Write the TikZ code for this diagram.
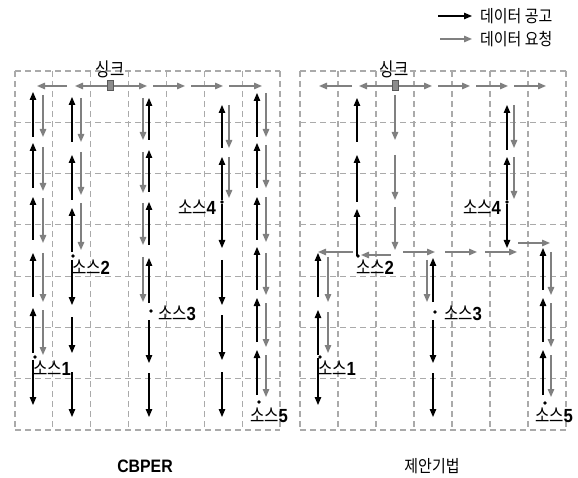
\documentclass[tikz,border=0pt]{standalone}
\usepackage{fontspec}
\newfontfamily\kr{Noto Sans CJK KR}[FakeStretch=0.88]
\newfontfamily\krl{Noto Sans CJK KR}[FakeStretch=0.82]
\newfontfamily\lat{Liberation Sans}[FakeStretch=0.88]
\usetikzlibrary{arrows.meta}
\definecolor{gridc}{RGB}{170,170,170}
\definecolor{reqc}{RGB}{128,128,128}
\newcommand\srcname[1]{{\krl 소스}{\lat\bfseries #1}}
\tikzset{
 gridline/.style={gridc, line width=1.1pt, dash pattern=on 6pt off 4pt},
 annc/.style={black, line width=1.2pt, -{Triangle[length=8pt,width=6.5pt]}},
 reqa/.style={reqc, line width=1.4pt, -{Triangle[length=8pt,width=6.5pt]}},
 src/.style={circle, fill=black, inner sep=0pt, minimum size=3.6pt},
 lbl/.style={font=\fontsize{19}{19}\selectfont, inner sep=0pt},
 ttl/.style={font=\kr\fontsize{17}{17}\selectfont, inner sep=0pt},
 sinkbox/.style={draw=black!65, fill=black!45, minimum width=6pt, minimum height=10pt, inner sep=0pt, line width=0.6pt},
}
\begin{document}
\begin{tikzpicture}[x=1pt,y=-1pt]
\useasboundingbox (0,0) rectangle (578,478);
% grids
\foreach \i in {0,...,7} {
  \draw[gridline] ({15+\i*265/7},71) -- ({15+\i*265/7},430);
  \draw[gridline] (15,{71+\i*359/7}) -- (280,{71+\i*359/7});
  \draw[gridline] ({300+\i*266/7},71) -- ({300+\i*266/7},430);
  \draw[gridline] (300,{71+\i*359/7}) -- (566,{71+\i*359/7});
}
% data announcement (black), left grid
\foreach \xa/\ya/\xb/\yb [count=\i] in {
33/137/33/92, 33/188/33/143, 33/240/33/197, 33/297/33/253, 33/353/33/308, 33/360/33/405,
72/142/72/97, 72/200/72/155, 72/252/72/208, 72/260/72/305, 72/317/72/353, 72/372/72/417,
149/140/149/98, 149/192/149/150, 149/245/149/202, 149/303/149/258, 149/320/149/363, 149/373/149/417,
222/148/222/105, 222/200/222/157, 222/204/222/248, 222/260/222/305, 222/315/222/360, 222/372/222/417,
257/137/257/93, 257/188/257/143, 257/240/257/197, 257/290/257/247, 257/342/257/298, 257/395/257/350} {
  \coordinate (lb\i-s) at (\xa,\ya); \coordinate (lb\i-e) at (\xb,\yb);
  \draw[annc] (lb\i-s) -- (lb\i-e);
}
% data request (gray), left grid
\foreach \xa/\ya/\xb/\yb [count=\i] in {
67/86/37/86, 107/86/75/86, 113/86/147/86, 153/86/185/86, 191/86/223/86, 229/86/262/86,
43/95/43/137, 43/147/43/191, 43/198/43/243, 43/253/43/302, 43/310/43/355,
81/98/81/142, 81/152/81/195, 81/203/81/250,
143/98/143/140, 143/152/143/193, 143/203/143/245, 143/257/143/302,
229/105/229/148, 229/157/229/198,
266/93/266/137, 266/145/266/188, 266/197/266/242, 266/253/266/295, 266/303/266/347, 266/355/266/397} {
  \coordinate (lg\i-s) at (\xa,\ya); \coordinate (lg\i-e) at (\xb,\yb);
  \draw[reqa] (lg\i-s) -- (lg\i-e);
}
% data request (gray), right grid
\foreach \xa/\ya/\xb/\yb [count=\i] in {
352/86/319/86, 392/86/359/86, 398/86/432/86, 438/86/470/86, 476/86/508/86, 514/86/546/86,
395/95/395/140, 395/155/395/200, 395/207/395/250,
353/252/318/252, 391/255/361/255, 403/252/435/252, 445/252/477/252, 485/252/517/252, 518/243/550/243,
328/257/328/302, 328/312/328/353,
427/260/427/302,
514/105/514/148, 514/157/514/199,
551/252/551/295, 551/303/551/347, 551/355/551/397} {
  \coordinate (rg\i-s) at (\xa,\ya); \coordinate (rg\i-e) at (\xb,\yb);
  \draw[reqa] (rg\i-s) -- (rg\i-e);
}
% data announcement (black), right grid
\foreach \xa/\ya/\xb/\yb [count=\i] in {
357/142/357/98, 357/202/357/155, 357/256/357/209,
318/297/318/253, 318/355/318/310, 318/358/318/405,
433/302/433/258, 433/320/433/363, 433/373/433/417,
507/150/507/105, 507/200/507/157, 507/204/507/248,
543/290/543/248, 543/342/543/298, 543/395/543/350} {
  \coordinate (rb\i-s) at (\xa,\ya); \coordinate (rb\i-e) at (\xb,\yb);
  \draw[annc] (rb\i-s) -- (rb\i-e);
}
% sinks
\node[sinkbox] (lsink) at (110,85) {};
\node[sinkbox] (rsink) at (395,85) {};
\node[lbl] (lsinkl) at (110,69) {\krl 싱크};
\node[lbl] (rsinkl) at (394,69) {\krl 싱크};
% sources, left
\node[src] (ls1) at (35,357) {};
\node[src] (ls2) at (73,256) {};
\node[src] (ls3) at (151,311) {};
\node[src] (ls4) at (222,202) {};
\node[src] (ls5) at (259,402) {};
\node[lbl] (ls1l) at (52,368) {\srcname{1}};
\node[lbl] (ls2l) at (91,267) {\srcname{2}};
\node[lbl] (ls3l) at (177,313) {\srcname{3}};
\node[lbl] (ls4l) at (197,207) {\srcname{4}};
\node[lbl] (ls5l) at (269,415) {\srcname{5}};
% sources, right
\node[src] (rs1) at (320,357) {};
\node[src] (rs2) at (358,256) {};
\node[src] (rs3) at (435,312) {};
\node[src] (rs4) at (507,202) {};
\node[src] (rs5) at (545,403) {};
\node[lbl] (rs1l) at (337,368) {\srcname{1}};
\node[lbl] (rs2l) at (375,267) {\srcname{2}};
\node[lbl] (rs3l) at (463,313) {\srcname{3}};
\node[lbl] (rs4l) at (482,207) {\srcname{4}};
\node[lbl] (rs5l) at (554,415) {\srcname{5}};
% titles
\node[font=\lat\bfseries\fontsize{18}{18}\selectfont, inner sep=0pt] (t1) at (145,466) {CBPER};
\node[ttl] (t2) at (432,466) {제안기법};
% legend
\coordinate (lga-s) at (438,16); \coordinate (lga-e) at (472,16);
\draw[annc] (lga-s) -- (lga-e);
\coordinate (lgb-s) at (440,39); \coordinate (lgb-e) at (472,39);
\draw[reqa] (lgb-s) -- (lgb-e);
\node[ttl, anchor=west] (lg1) at (480,16) {데이터 공고};
\node[ttl, anchor=west] (lg2) at (480,39) {데이터 요청};
\end{tikzpicture}
\end{document}
